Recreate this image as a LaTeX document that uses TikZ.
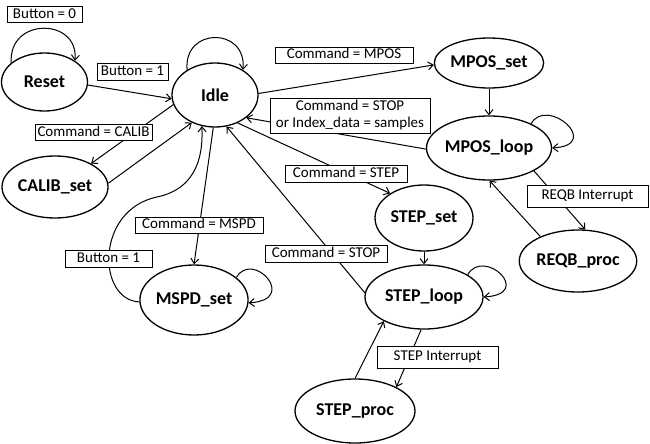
\documentclass[tikz,border=0pt]{standalone}
\usepackage{fontspec}
\setmainfont{Carlito}
\usetikzlibrary{shapes.geometric,arrows.meta}
\begin{document}
\begin{tikzpicture}[x=1pt,y=-1pt,
  st/.style={ellipse,draw,line width=1.3pt,fill=white,inner sep=0pt,
    font=\fontsize{18}{20}\selectfont\bfseries},
  lb/.style={rectangle,draw,line width=1pt,fill=white,inner xsep=1pt,inner ysep=0pt,
    font=\fontsize{15}{17}\selectfont,align=center},
  lb1/.style={lb,text height=10.5pt,text depth=3.5pt},
  tr/.style={line width=1pt,-{Straight Barb[length=5pt,width=8pt]}},
  selfloop/.style={line width=1pt,-{Straight Barb[length=5pt,width=8pt]}}
]
\useasboundingbox (0,0) rectangle (650,444);

% states
\node[st,minimum width=86pt,minimum height=58pt] (reset) at (44.5,82) {Reset};
\node[st,minimum width=86pt,minimum height=64pt] (idle) at (215,95) {Idle};
\node[st,minimum width=108pt,minimum height=50pt] (mposset) at (489,63) {MPOS\_set};
\node[st,minimum width=118pt,minimum height=64pt] (mposloop) at (489,148) {MPOS\_loop};
\node[st,minimum width=106pt,minimum height=62pt] (calib) at (55,187) {CALIB\_set};
\node[st,minimum width=108pt,minimum height=70pt] (mspd) at (194,300) {MSPD\_set};
\node[st,minimum width=98pt,minimum height=66pt] (stepset) at (424,218) {STEP\_set};
\node[st,minimum width=118pt,minimum height=64pt] (steploop) at (424,297) {STEP\_loop};
\node[st,minimum width=104pt,minimum height=62pt] (reqb) at (578,261) {REQB\_proc};
\node[st,minimum width=120pt,minimum height=64pt] (stepproc) at (355,411) {STEP\_proc};

\coordinate (mspdbend) at (157,197);

% self loops
\draw[selfloop] (reset.150) .. controls +(-3,-46) and +(4,-43) .. (reset.35);
\draw[selfloop] (idle.138) .. controls +(-4,-43) and +(4,-43) .. (idle.42);
\draw[selfloop] (mposloop.30) .. controls +(16,-28) and +(51,-3) .. (mposloop.0);
\draw[selfloop] (steploop.27) .. controls +(16,-28) and +(51,-3) .. (steploop.0);
\draw[selfloop] (mspd.28) .. controls +(16,-28) and +(51,-3) .. (mspd.-3);

% transitions
\draw[tr] (reset.-4) -- (idle.185);
\draw[tr] (idle.2) -- (mposset.182);
\draw[tr] (mposset.south) -- (mposloop.north);
\draw[tr] (mposloop.181) -- (idle.-36);
\draw[tr] (idle.193) -- (calib.33);
\draw[tr] (calib.4) -- (idle.230);
\draw[tr] (idle.-93) -- (mspd.north);
\draw[tr] (mspd.182) .. controls (97,300) and (95,210) .. (mspdbend)
  .. controls (200,188) and (203,150) .. (idle.247);
\draw[tr] (idle.-51) -- (stepset.144);
\draw[tr] (stepset.south) -- (steploop.north);
\draw[tr] (steploop.176) -- (idle.-70);
\draw[tr] (steploop.-95) -- (stepproc.30);
\draw[tr] (stepproc.north) -- (steploop.211);
\draw[tr] (mposloop.-27) -- (reqb.77);
\draw[tr] (reqb.147) -- (mposloop.-89);

% labels
\node[lb1,minimum width=75pt,minimum height=16pt] (lb0) at (44.5,15) {Button = 0};
\node[lb1,minimum width=71pt,minimum height=16pt] (lb1a) at (132.5,72) {Button = 1};
\node[lb1,minimum width=117pt,minimum height=16pt] (lcalib) at (93.5,132.5) {Command = CALIB};
\node[lb1,minimum width=138pt,minimum height=16pt] (lmpos) at (344,55.5) {Command = MPOS};
\node[lb,minimum width=160pt,minimum height=35pt] (lstop1) at (350,115.5) {Command = STOP\\or Index\_data = samples};
\node[lb1,minimum width=122pt,minimum height=17pt] (lstep) at (346,173.5) {Command = STEP};
\node[lb1,minimum width=121pt,minimum height=22pt] (lreqb) at (587.5,196) {REQB Interrupt};
\node[lb1,minimum width=122pt,minimum height=17pt] (lstop2) at (326,253.5) {Command = STOP};
\node[lb1,minimum width=128pt,minimum height=16pt] (lmspd) at (199,225) {Command = MSPD};
\node[lb1,minimum width=87pt,minimum height=17pt] (lb1b) at (108.5,258.5) {Button = 1};
\node[lb1,minimum width=121pt,minimum height=22pt] (lstepint) at (437.5,357) {STEP Interrupt};
\end{tikzpicture}
\end{document}
